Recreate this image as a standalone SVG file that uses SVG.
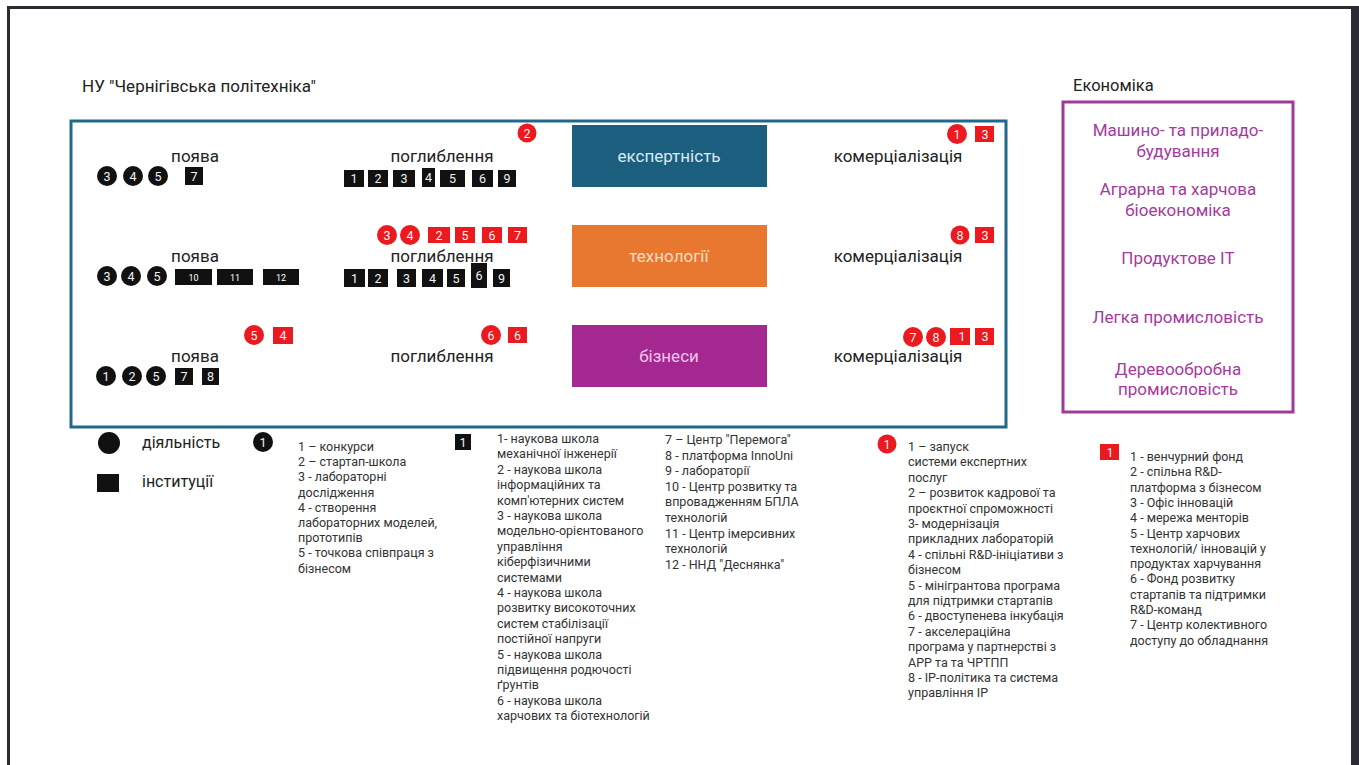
<svg xmlns="http://www.w3.org/2000/svg" width="1359" height="765" viewBox="0 0 1359 765">
<style>
text{font-family:Roboto,"Liberation Sans",sans-serif}
.lbl{font-size:17px;fill:#222;text-anchor:middle}
.hdr{font-size:16.5px;fill:#222}
.ttl{font-size:17px;fill:#222}
.box{font-size:17px;text-anchor:middle}
.eco{font-size:17px;fill:#a63a9c;text-anchor:middle}
.leg{font-size:16px;fill:#222}
.lst{font-size:12.5px;fill:#333}
.b{fill:#111}
.r{fill:#ea1a1f}
.n{font-size:12.5px;fill:#f2f2f2;text-anchor:middle}
.s{font-size:9px;fill:#fff;text-anchor:middle}
</style>
<rect width="1359" height="765" fill="#fff"/>
<g id="frame">
<path d="M8.5 765V7.5H1359" fill="none" stroke="#2b2b33" stroke-width="3"/>
<rect x="1351" y="6" width="8" height="759" fill="#2b2b33"/>
</g>
<g id="title"><text class="ttl" x="82" y="92">НУ "Чернігівська політехніка"</text></g>
<g id="university-box"><rect x="71" y="121" width="935" height="306" fill="none" stroke="#22688a" stroke-width="3"/></g>

<g id="row1-poyava">
<text class="lbl" x="195" y="162">поява</text>
<circle class="b" cx="107" cy="176" r="10"/><text class="n" x="107" y="180.5">3</text>
<circle class="b" cx="133" cy="176" r="10"/><text class="n" x="133" y="180.5">4</text>
<circle class="b" cx="158" cy="176" r="10"/><text class="n" x="158" y="180.5">5</text>
<rect class="b" x="185" y="167" width="18" height="18"/><text class="n" x="194" y="180.5">7</text>
</g>
<g id="row1-pogly">
<text class="lbl" x="442" y="162">поглиблення</text>
<circle class="r" cx="527" cy="133" r="9.5"/><text class="n" x="527" y="137.5">2</text>
<rect class="b" x="344" y="170" width="20" height="17"/><text class="n" x="354" y="183">1</text>
<rect class="b" x="368" y="170" width="20" height="17"/><text class="n" x="378" y="183">2</text>
<rect class="b" x="393" y="170" width="22" height="17"/><text class="n" x="404" y="183">3</text>
<rect class="b" x="422" y="168" width="13" height="19"/><text class="n" x="428.5" y="182">4</text>
<rect class="b" x="440" y="170" width="25" height="17"/><text class="n" x="452.5" y="183">5</text>
<rect class="b" x="472" y="170" width="21" height="17"/><text class="n" x="482.5" y="183">6</text>
<rect class="b" x="498" y="170" width="18" height="17"/><text class="n" x="507" y="183">9</text>
</g>
<g id="expertise"><rect x="572" y="125" width="195" height="62" fill="#1b5e7e"/><text class="box" x="669" y="162" fill="#dce9f0">експертність</text></g>
<g id="row1-comm">
<text class="lbl" x="898" y="162">комерціалізація</text>
<circle class="r" cx="957" cy="134" r="10"/><text class="n" x="957" y="138.5">1</text>
<rect class="r" x="975" y="126" width="19" height="16"/><text class="n" x="985" y="138.5">3</text>
</g>

<g id="row2-poyava">
<text class="lbl" x="195" y="262">поява</text>
<circle class="b" cx="107" cy="276" r="10"/><text class="n" x="107" y="280.5">3</text>
<circle class="b" cx="131" cy="276" r="10"/><text class="n" x="131" y="280.5">4</text>
<circle class="b" cx="157" cy="276" r="10"/><text class="n" x="157" y="280.5">5</text>
<rect class="b" x="175" y="269" width="37" height="16"/><text class="s" x="193.5" y="280.5">10</text>
<rect class="b" x="217" y="269" width="36" height="16"/><text class="s" x="235" y="280.5">11</text>
<rect class="b" x="263" y="269" width="36" height="16"/><text class="s" x="281" y="280.5">12</text>
</g>
<g id="row2-pogly">
<text class="lbl" x="442" y="262">поглиблення</text>
<circle class="r" cx="387" cy="235" r="10"/><text class="n" x="387" y="239.5">3</text>
<circle class="r" cx="410" cy="235" r="10"/><text class="n" x="410" y="239.5">4</text>
<rect class="r" x="428" y="227" width="22" height="16"/><text class="n" x="439" y="239.5">2</text>
<rect class="r" x="455" y="227" width="20" height="16"/><text class="n" x="465" y="239.5">5</text>
<rect class="r" x="482" y="227" width="20" height="16"/><text class="n" x="492" y="239.5">6</text>
<rect class="r" x="508" y="227" width="19" height="16"/><text class="n" x="517.5" y="239.5">7</text>
<rect class="b" x="344" y="269" width="21" height="18"/><text class="n" x="354.5" y="282.5">1</text>
<rect class="b" x="368" y="269" width="20" height="18"/><text class="n" x="378" y="282.5">2</text>
<rect class="b" x="397" y="269" width="19" height="18"/><text class="n" x="406.5" y="282.5">3</text>
<rect class="b" x="422" y="269" width="21" height="18"/><text class="n" x="432.5" y="282.5">4</text>
<rect class="b" x="447" y="269" width="18" height="18"/><text class="n" x="456" y="282.5">5</text>
<rect class="b" x="471" y="263" width="16" height="25"/><text class="n" x="479" y="280">6</text>
<rect class="b" x="493" y="269" width="17" height="18"/><text class="n" x="501.5" y="282.5">9</text>
</g>
<g id="technologies"><rect x="572" y="225" width="195" height="62" fill="#e8782f"/><text class="box" x="669" y="262" fill="#fcdcc4">технології</text></g>
<g id="row2-comm">
<text class="lbl" x="898" y="262">комерціалізація</text>
<circle class="r" cx="960" cy="235" r="9.5"/><text class="n" x="960" y="239.5">8</text>
<rect class="r" x="975" y="227" width="19" height="16"/><text class="n" x="985" y="239.5">3</text>
</g>

<g id="row3-poyava">
<text class="lbl" x="195" y="362">поява</text>
<circle class="r" cx="254" cy="335" r="10"/><text class="n" x="254" y="339.5">5</text>
<rect class="r" x="273" y="327" width="20" height="17"/><text class="n" x="283" y="340">4</text>
<circle class="b" cx="106" cy="376" r="10"/><text class="n" x="106" y="380.5">1</text>
<circle class="b" cx="132" cy="376" r="10"/><text class="n" x="132" y="380.5">2</text>
<circle class="b" cx="156" cy="376" r="10"/><text class="n" x="156" y="380.5">5</text>
<rect class="b" x="175" y="368" width="18" height="17"/><text class="n" x="184" y="381">7</text>
<rect class="b" x="202" y="368" width="17" height="17"/><text class="n" x="210.5" y="381">8</text>
</g>
<g id="row3-pogly">
<text class="lbl" x="442" y="362">поглиблення</text>
<circle class="r" cx="491" cy="335" r="10"/><text class="n" x="491" y="339.5">6</text>
<rect class="r" x="508" y="327" width="19" height="16"/><text class="n" x="517.5" y="339.5">6</text>
</g>
<g id="business"><rect x="572" y="325" width="195" height="62" fill="#a3288f"/><text class="box" x="669" y="362" fill="#f2c4e8">бізнеси</text></g>
<g id="row3-comm">
<text class="lbl" x="898" y="362">комерціалізація</text>
<circle class="r" cx="913" cy="337" r="10"/><text class="n" x="913" y="341.5">7</text>
<circle class="r" cx="936" cy="337" r="10"/><text class="n" x="936" y="341.5">8</text>
<rect class="r" x="950" y="328" width="20" height="17"/><text class="n" x="962" y="341">1</text>
<rect class="r" x="975" y="328" width="19" height="17"/><text class="n" x="985" y="341">3</text>
</g>

<g id="economy">
<text class="hdr" x="1073" y="91">Економіка</text>
<rect x="1063" y="102" width="230" height="310" fill="none" stroke="#a03a98" stroke-width="3"/>
<text class="eco" x="1178" y="136">Машино- та приладо-</text>
<text class="eco" x="1178" y="157">будування</text>
<text class="eco" x="1178" y="195">Аграрна та харчова</text>
<text class="eco" x="1178" y="216">біоекономіка</text>
<text class="eco" x="1178" y="264">Продуктове ІТ</text>
<text class="eco" x="1178" y="323">Легка промисловість</text>
<text class="eco" x="1178" y="375">Деревообробна</text>
<text class="eco" x="1178" y="395">промисловість</text>
</g>

<g id="connectors"/>

<g id="legend-types">
<circle class="b" cx="109" cy="443" r="11"/>
<text class="leg" x="142" y="448">діяльність</text>
<rect class="b" x="97" y="474" width="22" height="18"/>
<text class="leg" x="142" y="487">інституції</text>
</g>
<g id="legend-activities">
<circle class="b" cx="263" cy="442" r="10"/><text class="n" x="263" y="446.5">1</text>
<text class="lst" x="298">
<tspan x="298" y="451">1 – конкурси</tspan>
<tspan x="298" y="466.2">2 – стартап-школа</tspan>
<tspan x="298" y="481.4">3 - лабораторні</tspan>
<tspan x="298" y="496.6">дослідження</tspan>
<tspan x="298" y="511.8">4 - створення</tspan>
<tspan x="298" y="527">лабораторних моделей,</tspan>
<tspan x="298" y="542.2">прототипів</tspan>
<tspan x="298" y="557.4">5 - точкова співпраця з</tspan>
<tspan x="298" y="572.6">бізнесом</tspan>
</text>
</g>
<g id="legend-institutions">
<rect class="b" x="455" y="434" width="16" height="16"/><text class="n" x="463" y="446.5">1</text>
<text class="lst" x="497">
<tspan x="497" y="443">1- наукова школа</tspan>
<tspan x="497" y="458.4">механічної інженерії</tspan>
<tspan x="497" y="473.8">2 - наукова школа</tspan>
<tspan x="497" y="489.2">інформаційних та</tspan>
<tspan x="497" y="504.6">комп'ютерних систем</tspan>
<tspan x="497" y="520">3 - наукова школа</tspan>
<tspan x="497" y="535.4">модельно-орієнтованого</tspan>
<tspan x="497" y="550.8">управління</tspan>
<tspan x="497" y="566.2">кіберфізичними</tspan>
<tspan x="497" y="581.6">системами</tspan>
<tspan x="497" y="597">4 - наукова школа</tspan>
<tspan x="497" y="612.4">розвитку високоточних</tspan>
<tspan x="497" y="627.8">систем стабілізації</tspan>
<tspan x="497" y="643.2">постійної напруги</tspan>
<tspan x="497" y="658.6">5 - наукова школа</tspan>
<tspan x="497" y="674">підвищення родючості</tspan>
<tspan x="497" y="689.4">ґрунтів</tspan>
<tspan x="497" y="704.8">6 - наукова школа</tspan>
<tspan x="497" y="720.2">харчових та біотехнологій</tspan>
</text>
<text class="lst" x="665">
<tspan x="665" y="444">7 – Центр "Перемога"</tspan>
<tspan x="665" y="459.6">8 - платформа InnoUni</tspan>
<tspan x="665" y="475.2">9 - лабораторії</tspan>
<tspan x="665" y="490.8">10 - Центр розвитку та</tspan>
<tspan x="665" y="506.4">впровадженням БПЛА</tspan>
<tspan x="665" y="522">технологій</tspan>
<tspan x="665" y="537.6">11 - Центр імерсивних</tspan>
<tspan x="665" y="553.2">технологій</tspan>
<tspan x="665" y="568.8">12 - ННД "Деснянка"</tspan>
</text>
</g>
<g id="legend-red-activities">
<circle class="r" cx="887" cy="444" r="9.5"/><text class="n" x="887" y="448.5">1</text>
<text class="lst" x="908">
<tspan x="908" y="451">1 – запуск</tspan>
<tspan x="908" y="466.4">системи експертних</tspan>
<tspan x="908" y="481.8">послуг</tspan>
<tspan x="908" y="497.2">2 – розвиток кадрової та</tspan>
<tspan x="908" y="512.6">проєктної спроможності</tspan>
<tspan x="908" y="528">3- модернізація</tspan>
<tspan x="908" y="543.4">прикладних лабораторій</tspan>
<tspan x="908" y="558.8">4 - спільні R&amp;D-ініціативи з</tspan>
<tspan x="908" y="574.2">бізнесом</tspan>
<tspan x="908" y="589.6">5 - мінігрантова програма</tspan>
<tspan x="908" y="605">для підтримки стартапів</tspan>
<tspan x="908" y="620.4">6 - двоступенева інкубація</tspan>
<tspan x="908" y="635.8">7 - акселераційна</tspan>
<tspan x="908" y="651.2">програма у партнерстві з</tspan>
<tspan x="908" y="666.6">АРР та та ЧРТПП</tspan>
<tspan x="908" y="682">8 - IP-політика та система</tspan>
<tspan x="908" y="697.4">управління IP</tspan>
</text>
</g>
<g id="legend-red-institutions">
<rect class="r" x="1100" y="444" width="19" height="16"/><text class="n" x="1110" y="456.5">1</text>
<text class="lst" x="1130">
<tspan x="1130" y="461">1 - венчурний фонд</tspan>
<tspan x="1130" y="476.3">2 - спільна R&amp;D-</tspan>
<tspan x="1130" y="491.6">платформа з бізнесом</tspan>
<tspan x="1130" y="506.9">3 - Офіс інновацій</tspan>
<tspan x="1130" y="522.2">4 - мережа менторів</tspan>
<tspan x="1130" y="537.5">5 - Центр харчових</tspan>
<tspan x="1130" y="552.8">технологій/ інновацій у</tspan>
<tspan x="1130" y="568.1">продуктах харчування</tspan>
<tspan x="1130" y="583.4">6 - Фонд розвитку</tspan>
<tspan x="1130" y="598.7">стартапів та підтримки</tspan>
<tspan x="1130" y="614">R&amp;D-команд</tspan>
<tspan x="1130" y="629.3">7 - Центр колективного</tspan>
<tspan x="1130" y="644.6">доступу до обладнання</tspan>
</text>
</g>
</svg>
